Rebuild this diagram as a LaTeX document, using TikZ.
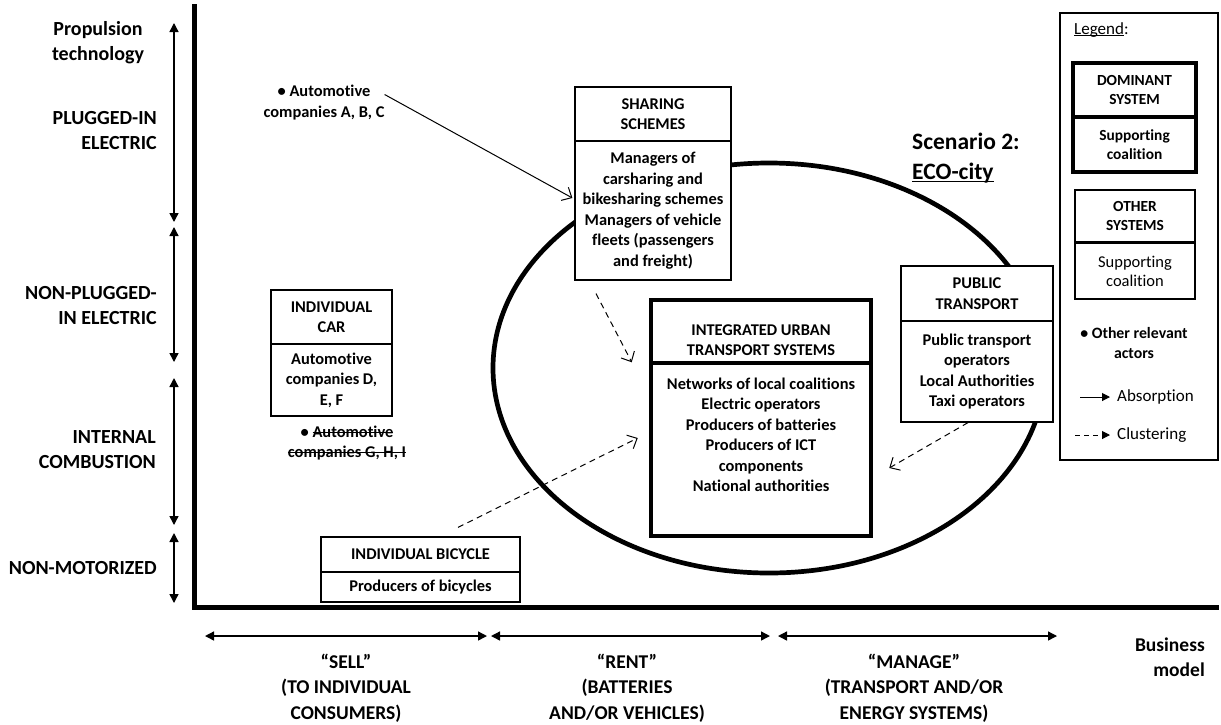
\documentclass[tikz,border=0pt]{standalone}
\usepackage{fontspec}
\setmainfont{Carlito}[Ligatures={TeX,NoCommon}]
\usetikzlibrary{arrows.meta}
\newsavebox\mylinebox
\newcommand\myul[2][2.5pt]{\sbox\mylinebox{#2}\rlap{\rule[-#1]{\wd\mylinebox}{1.2pt}}\usebox\mylinebox}
\newcommand\mystrike[1]{\sbox\mylinebox{#1}\rlap{\rule[0.27em]{\wd\mylinebox}{1.1pt}}\usebox\mylinebox}
\begin{document}
\begin{tikzpicture}[x=1pt,y=-1pt,
  bx/.style={draw, fill=white, line width=1.2pt, inner sep=0pt, align=center, font=\bfseries\fontsize{16.4}{20.5}\selectfont},
  thk/.style={bx, line width=4.5pt},
  txt/.style={inner sep=0pt, align=center, font=\bfseries\fontsize{16.4}{20.5}\selectfont},
  axlab/.style={inner sep=0pt, align=right, font=\bfseries\fontsize{20}{25}\selectfont},
  bmlab/.style={inner sep=0pt, align=center, font=\bfseries\fontsize{19.5}{25.5}\selectfont},
  lgb/.style={draw, fill=white, line width=1.2pt, inner sep=0pt, align=center, font=\bfseries\fontsize{15.4}{18.5}\selectfont},
  lgthk/.style={lgb, line width=3.5pt},
  lgt/.style={inner sep=0pt, align=center, font=\fontsize{17}{19}\selectfont},
  dbl/.style={{Triangle[length=9pt,width=9pt]}-{Triangle[length=9pt,width=9pt]}, line width=1.4pt},
  absorb/.style={-{Straight Barb[length=8pt,width=15pt]}, line width=1pt},
  clust/.style={-{Straight Barb[length=8pt,width=15pt]}, dash pattern=on 6pt off 4.5pt, line width=1pt},
  lgabs/.style={-{Triangle[length=8pt,width=8pt]}, line width=1pt},
  lgclu/.style={-{Triangle[length=8pt,width=8pt]}, dash pattern=on 5pt off 4pt, line width=1pt},
]
\useasboundingbox (0,0) rectangle (1221,724);
\fill[white] (0,0) rectangle (1221,724);

% axes
\draw[line width=5pt] (194.5,4) -- (194.5,607) -- (1219,607);

% propulsion axis arrows
\draw[dbl] (174,23) -- (174,222);
\draw[dbl] (174,227) -- (174,362);
\draw[dbl] (174,378) -- (174,525);
\draw[dbl] (174,533) -- (174,603);

% left labels
\node[axlab, align=center] (prop) at (98,42.5) {Propulsion\\technology};
\node[axlab, anchor=east] (plug) at (157,131) {PLUGGED-IN\\ELECTRIC};
\node[axlab, anchor=east] (nplug) at (157,305.5) {NON-PLUGGED-\\IN ELECTRIC};
\node[axlab, anchor=east] (ice) at (156,449.5) {INTERNAL\\COMBUSTION};
\node[axlab, anchor=east] (nmot) at (157,568) {NON-MOTORIZED};

% business model axis arrows
\draw[dbl] (205,636) -- (487,636);
\draw[dbl] (491,636) -- (770,636);
\draw[dbl] (778,636) -- (1057,636);

\node[bmlab] (sell) at (346,688) {``SELL''\\(TO INDIVIDUAL\\CONSUMERS)};
\node[bmlab] (rent) at (627,688) {``RENT''\\(BATTERIES\\AND/OR VEHICLES)};
\node[bmlab] (manage) at (914,688) {``MANAGE''\\(TRANSPORT AND/OR\\ENERGY SYSTEMS)};
\node[bmlab, align=right, anchor=east] (bm) at (1205,657) {Business\\model};

% scenario ellipse
\draw[line width=4.7pt] (769,368) ellipse [x radius=276pt, y radius=205pt];

\node[inner sep=0pt, align=left, anchor=west, font=\bfseries\fontsize{23.5}{30}\selectfont] (scen) at (912,158) {Scenario 2:\\\myul{ECO-city}};

% other actors A,B,C
\node[txt] (abc) at (324,102.5) {• Automotive\\companies A, B, C};

% sharing schemes
\node[bx, minimum width=156pt, minimum height=54pt] (shT) at (653,114) {SHARING\\SCHEMES};
\node[bx, minimum width=156pt, minimum height=139pt] (shB) at (653,210.5) {Managers of\\carsharing and\\bikesharing schemes\\Managers of vehicle\\fleets (passengers\\and freight)};

% individual car
\node[bx, minimum width=121pt, minimum height=54pt] (caT) at (331.5,317) {INDIVIDUAL\\CAR};
\node[bx, minimum width=121pt, minimum height=72pt] (caB) at (331.5,380) {Automotive\\companies D,\\E, F};

% struck-out actors
\node[txt] (ghi) at (347,443) {• \mystrike{Automotive}\\\mystrike{companies G, H, I}};

% individual bicycle
\node[bx, minimum width=199pt, minimum height=35pt] (bkT) at (420.5,554.5) {INDIVIDUAL BICYCLE};
\node[bx, minimum width=199pt, minimum height=30pt] (bkB) at (420.5,587) {Producers of bicycles};

% integrated urban transport systems (dominant)
\node[thk, minimum width=220pt, minimum height=63pt] (itT) at (761,331.5) {};
\node[thk, minimum width=220pt, minimum height=173pt] (itB) at (761,449.5) {};
\node[txt] (itTt) at (761,340) {INTEGRATED URBAN\\TRANSPORT SYSTEMS};
\node[txt] (itBt) at (761,435) {Networks of local coalitions\\Electric operators\\Producers of batteries\\Producers of ICT\\components\\National authorities};

% public transport
\node[bx, minimum width=152pt, minimum height=55pt] (ptT) at (977,293.5) {PUBLIC\\TRANSPORT};
\node[bx, minimum width=152pt, minimum height=101pt] (ptB) at (977,371.5) {Public transport\\operators\\Local Authorities\\Taxi operators};

% connectors
\draw[absorb] ([yshift=8pt]abc.east) -- ([xshift=-2pt,yshift=12.5pt]shB.west);
\draw[clust] ([xshift=-57pt,yshift=-13pt]shB.south) -- ([xshift=-17pt,yshift=3pt]itT.south west);
\draw[clust] ([xshift=37.5pt,yshift=9pt]bkT.north) -- ([xshift=-11pt,yshift=11.5pt]itB.west);
\draw[clust] ([xshift=-9pt]ptB.south) -- ([xshift=16pt,yshift=-18.5pt]itB.east);

% legend
\node[draw, line width=1.2pt, minimum width=158pt, minimum height=447pt, inner sep=0pt] (legend) at (1139,236.5) {};
\node[lgt, anchor=west] (lgtitle) at (1074,30) {\myul[2pt]{Legend}:};
\node[lgthk, minimum width=123pt, minimum height=54pt] (domT) at (1134.5,90) {DOMINANT\\SYSTEM};
\node[lgthk, minimum width=123pt, minimum height=55pt] (domB) at (1134.5,144.5) {Supporting\\coalition};
\node[lgb, minimum width=120pt, minimum height=52pt] (othT) at (1135,216) {OTHER\\SYSTEMS};
\node[lgb, minimum width=120pt, minimum height=56pt, font=\fontsize{16.5}{19}\selectfont] (othB) at (1135,271) {Supporting\\coalition};
\node[lgt, font=\bfseries\fontsize{15.8}{20}\selectfont] (lgact) at (1134,343) {• Other relevant\\actors};
\node[lgt, anchor=west] (labs) at (1117,397) {Absorption};
\node[lgt, anchor=west] (lclu) at (1117,435) {Clustering};
\draw[lgabs] ([xshift=-37pt]labs.west) -- ([xshift=-7pt]labs.west);
\draw[lgclu] ([xshift=-42pt]lclu.west) -- ([xshift=-7pt]lclu.west);
\end{tikzpicture}
\end{document}
